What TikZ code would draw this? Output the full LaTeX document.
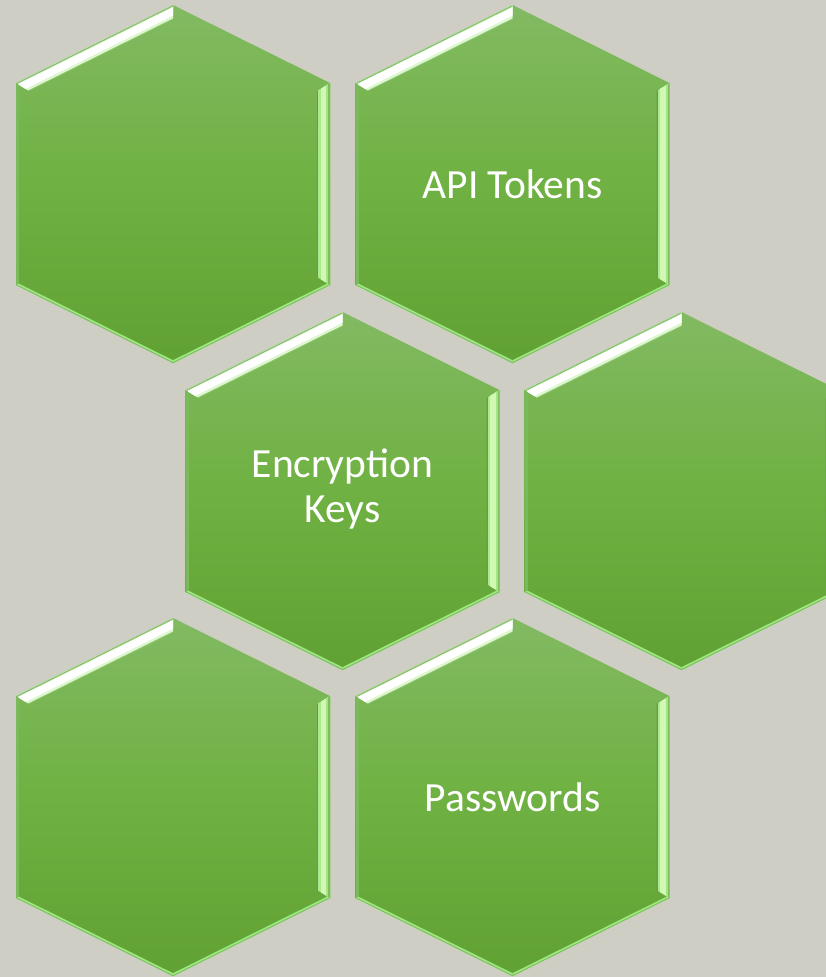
\documentclass[tikz,border=0pt]{standalone}
\usepackage{fontspec}
\newfontfamily\calib{Carlito}
\usetikzlibrary{calc}
\definecolor{bg}{RGB}{207,206,197}
\definecolor{hextop}{RGB}{130,186,98}
\definecolor{hexmid}{RGB}{111,177,66}
\definecolor{hexbot}{RGB}{97,161,51}
\definecolor{hlA}{RGB}{140,196,110}
\definecolor{hlB}{RGB}{222,247,208}
\definecolor{hlC}{RGB}{255,255,255}
\definecolor{hlD}{RGB}{140,198,112}
\definecolor{rA}{RGB}{100,160,64}
\definecolor{rB}{RGB}{176,232,146}
\definecolor{rC}{RGB}{208,250,180}
\definecolor{rD}{RGB}{168,226,136}
\definecolor{rE}{RGB}{124,190,92}
\definecolor{bA}{RGB}{158,232,130}
\definecolor{bB}{RGB}{120,190,90}
\definecolor{lA}{RGB}{122,186,90}
\tikzset{
  lbl/.style={text=white, font=\calib\fontsize{41.5}{45}\selectfont, align=center, inner sep=0pt},
}
\newcommand{\bevelstrip}[5]{% A, B, Ai, Bi, draws
  \begin{scope}
    \clip (#1)--(#2)--(#4)--(#3)--cycle;
    \foreach \w/\c in {#5}{
      \draw[line width=\w pt, \c] ($(#1)!-0.15!(#2)$)--($(#2)!-0.15!(#1)$);
    }
  \end{scope}}
\newcommand{\hexcell}[1]{%
\begin{scope}[shift={#1}]
  \coordinate (T) at (0,-179);
  \coordinate (UR) at (157,-101);
  \coordinate (LR) at (157,101);
  \coordinate (B) at (0,179);
  \coordinate (LL) at (-157,101);
  \coordinate (UL) at (-157,-101);
  \coordinate (Ti) at (0,-164.5);
  \coordinate (URi) at (144,-93);
  \coordinate (LRi) at (144,93);
  \coordinate (Bi) at (0,164.5);
  \coordinate (LLi) at (-144,93);
  \coordinate (ULi) at (-144,-93);
  \shade[top color=hextop, bottom color=hexbot, middle color=hexmid]
    (T)--(UR)--(LR)--(B)--(LL)--(UL)--cycle;
  \bevelstrip{UL}{T}{ULi}{Ti}{28/hlA, 24/hlB, 19/hlC, 3/hlD}
  \bevelstrip{UR}{LR}{URi}{LRi}{28/rA, 24/rB, 19/rC, 8/rD, 4/rE}
  \bevelstrip{LR}{B}{LRi}{Bi}{5/bA, 1.5/bB}
  \bevelstrip{B}{LL}{Bi}{LLi}{5/bA, 1.5/bB}
  \bevelstrip{LL}{UL}{LLi}{ULi}{6/lA}
\end{scope}}
\begin{document}
\begin{tikzpicture}[x=1pt, y=-1pt]
  \fill[bg] (0,0) rectangle (826,977);
  \useasboundingbox (0,0) rectangle (826,977);
  \clip (0,0) rectangle (826,977);
  \coordinate (h1) at (173,184);
  \coordinate (h2) at (512.5,184);
  \coordinate (h3) at (342.5,491);
  \coordinate (h4) at (681.5,491);
  \coordinate (h5) at (173,797);
  \coordinate (h6) at (512.5,797);
  \hexcell{(173,184)}
  \hexcell{(512.5,184)}
  \hexcell{(342.5,491)}
  \hexcell{(681.5,491)}
  \hexcell{(173,797)}
  \hexcell{(512.5,797)}
  \node[lbl] (api) at (h2) {API Tokens};
  \node[lbl] (enc) at ($(h3)+(0,-2)$) {Encryption\\Keys};
  \node[lbl] (pwd) at (h6) {Passwords};
\end{tikzpicture}
\end{document}
